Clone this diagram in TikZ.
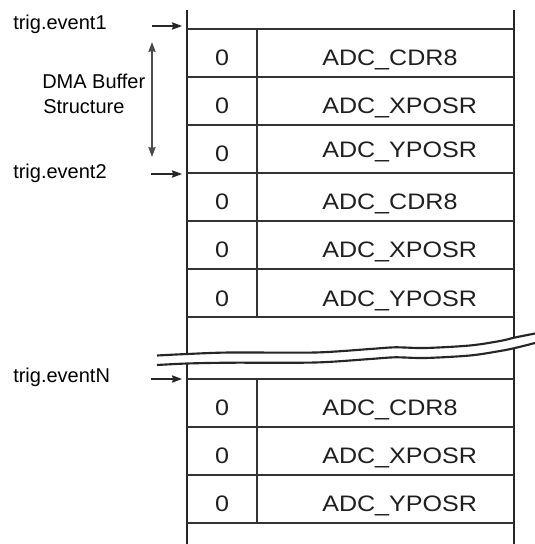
\documentclass[tikz,border=0pt]{standalone}
\usepackage{fontspec}
\setmainfont{Liberation Sans}
\newfontfamily\adcfont[FakeStretch=1.12]{Liberation Sans}
\usetikzlibrary{arrows.meta}
\begin{document}
\begin{tikzpicture}[x=0.75pt,y=-0.75pt,
  lbl/.style={inner sep=0pt,anchor=base west,font=\fontsize{15}{18}\selectfont},
  zero/.style={inner sep=0pt,anchor=base,font=\adcfont\fontsize{16.8}{20}\selectfont,text=black!88},
  reg/.style={inner sep=0pt,anchor=base west,font=\adcfont\fontsize{16.8}{20}\selectfont,text=black!88},
  rowline/.style={line width=1.05pt,draw=black!80},
  outer/.style={line width=1.6pt,draw=black!85},
  inner/.style={line width=0.85pt,draw=black!80},
  evarrow/.style={line width=0.85pt,draw=black!85,-{Stealth[length=7.5pt,width=5.5pt,inset=0.8pt]}},
  dblarrow/.style={line width=0.85pt,draw=black!70,{Stealth[length=7.5pt,width=5.5pt,inset=0.8pt]}-{Stealth[length=7.5pt,width=5.5pt,inset=0.8pt]}},
  wave/.style={line width=1.6pt,draw=black!85}]
\useasboundingbox (0,0) rectangle (535,544);
% outer verticals
\draw[outer] (187,10) -- (187,544);
\draw[outer] (514,10) -- (514,544);
% block 1 and 2 rows
\foreach \yy in {29,77,125,173,221,269,317} \draw[rowline] (187,\yy) -- (514,\yy);
\draw[inner] (257,29) -- (257,317);
% block 3 rows
\foreach \yy in {379,427,475,523} \draw[rowline] (187,\yy) -- (514,\yy);
\draw[inner] (257,379) -- (257,523);
% cell texts
\node[zero] (z1) at (222,65) {0};
\node[reg] (r1) at (322,65) {ADC\_CDR8};
\node[zero] (z2) at (222,113) {0};
\node[reg] (r2) at (322,113) {ADC\_XPOSR};
\node[zero] (z3) at (222,161) {0};
\node[reg] (r3) at (322,157) {ADC\_YPOSR};
\node[zero] (z4) at (222,209) {0};
\node[reg] (r4) at (322,209) {ADC\_CDR8};
\node[zero] (z5) at (222,257.5) {0};
\node[reg] (r5) at (322,257.5) {ADC\_XPOSR};
\node[zero] (z6) at (222,306) {0};
\node[reg] (r6) at (322,306) {ADC\_YPOSR};
\node[zero] (z7) at (222,415) {0};
\node[reg] (r7) at (322,415) {ADC\_CDR8};
\node[zero] (z8) at (222,463) {0};
\node[reg] (r8) at (322,463) {ADC\_XPOSR};
\node[zero] (z9) at (222,511) {0};
\node[reg] (r9) at (322,511) {ADC\_YPOSR};
% break
\fill[white] plot[smooth] coordinates {(157,355.5) (187,354) (230,352.5) (315,352.5) (370,349) (395,347.3) (425,348) (470,345.5) (500,341) (515,337.5) (535,333.5)}
  -- plot[smooth] coordinates {(535,343) (515,348) (500,351) (470,355.5) (425,358) (395,357.3) (370,359) (315,362.5) (230,362.7) (187,363.5) (157,365)} -- cycle;
\draw[wave] plot[smooth] coordinates {(157,355.5) (187,354) (230,352.5) (315,352.5) (370,349) (395,347.3) (425,348) (470,345.5) (500,341) (515,337.5) (535,333.5)};
\draw[wave] plot[smooth] coordinates {(157,365) (187,363.5) (230,362.7) (315,362.5) (370,359) (395,357.3) (425,358) (470,355.5) (500,351) (515,348) (535,343)};
% labels
\node[lbl] (e1) at (13,29.5) {trig.event1};
\node[lbl] (e2) at (13,178) {trig.event2};
\node[lbl] (eN) at (13,382) {trig.eventN};
\node[lbl] (dma1) at (42,88) {DMA Buffer};
\node[lbl] (dma2) at (43,113) {Structure};
% arrows
\coordinate (a1s) at (152,26);  \coordinate (a1e) at (182,26);
\coordinate (a2s) at (151,174); \coordinate (a2e) at (182,174);
\coordinate (aNs) at (151,379); \coordinate (aNe) at (182,379);
\draw[evarrow] (a1s) -- (a1e);
\draw[evarrow] (a2s) -- (a2e);
\draw[evarrow] (aNs) -- (aNe);
\coordinate (dt) at (152,42); \coordinate (db) at (152,157);
\draw[dblarrow] (dt) -- (db);
\end{tikzpicture}
\end{document}
